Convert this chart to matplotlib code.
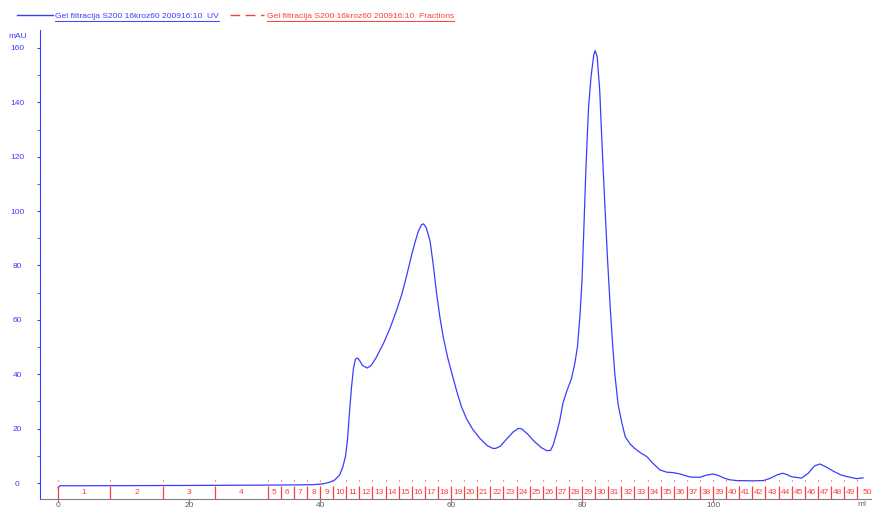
import numpy as np
import matplotlib
matplotlib.use("Agg")
import matplotlib.pyplot as plt
from matplotlib.lines import Line2D

plt.rcParams['font.family'] = ['Liberation Sans', 'DejaVu Sans']

# UV trace (ml, mAU)
ml = [0.0, 0.3, 5, 20, 30, 36, 39, 40.5, 41.5, 42.3, 43.0, 43.5, 43.9, 44.2, 44.5,
      44.8, 45.1, 45.4, 45.7, 46.0, 46.5, 47.2, 47.8, 48.5, 49.7, 50.7, 51.7, 52.5,
      53.2, 54.0, 54.5, 55.0, 55.5, 55.8, 56.2, 56.8, 57.3, 57.8, 58.3, 58.8, 59.5,
      60.4, 60.9, 61.6, 62.4, 63.3, 64.4, 65.5, 66.3, 66.8, 67.5, 68.5, 69.5, 70.3,
      70.8, 71.7, 72.7, 73.8, 74.6, 75.2, 75.6, 76.1, 76.6, 77.1, 77.7, 78.4, 78.9,
      79.3, 79.7, 80.0, 80.3, 80.6, 81.0, 81.4, 81.8, 82.0, 82.3, 82.7, 83.1, 83.5,
      83.9, 84.3, 84.7, 85.0, 85.5, 86.1, 86.6, 87.3, 88.0, 89.0, 89.9, 90.8, 91.9,
      92.9, 94.0, 95.0, 96.5, 98.0, 99.0, 100.0, 100.8, 101.6, 102.5, 103.6, 106.0,
      107.7, 108.7, 109.7, 110.6, 111.3, 112.0, 113.5, 114.5, 115.5, 116.3, 117.2,
      118.4, 119.5, 120.4, 121.9, 122.9]
uv = [-1.8, -1.0, -1.0, -0.9, -0.8, -0.7, -0.6, -0.3, 0.3, 1.2, 3.0, 6.0, 10.0, 16,
      26, 35, 42, 45.5, 46.0, 45.2, 43.2, 42.3, 43.2, 45.8, 51.4, 57.0, 63.6, 69.5,
      76.0, 84, 88.5, 92.5, 95.0, 95.3, 94.0, 89.0, 80, 69.7, 61, 53.8, 46,
      37.9, 33.5, 28, 23.5, 19.8, 16.4, 13.8, 12.8, 12.7, 13.5, 16.2, 18.8, 20.1,
      19.9, 18.0, 15.3, 13.0, 11.9, 12.0, 14.0, 18.2, 23.0, 29.5, 34.0, 38.5, 44.0,
      50.0, 62.0, 74.6, 95, 116, 138.4, 150, 157.5, 159, 157, 144.5, 122, 101.6,
      82, 64.8, 50, 40.3, 29, 21.9, 17, 14.5, 12.8, 11.0, 9.7, 7.3, 4.8,
      4.0, 3.8, 3.3, 2.2, 2.1, 2.9, 3.3, 2.8, 1.9, 1.2, 0.9, 0.8,
      0.9, 1.7, 2.9, 3.6, 3.1, 2.3, 1.8, 3.5, 6.3, 7.0, 6.0,
      4.3, 3.0, 2.4, 1.6, 1.9]

# fraction boundaries (ml) and labels
frac_starts = [0, 8, 16, 24] + list(range(32, 124, 2))
frac_labels = [str(i) for i in range(1, 51)]

blue = '#3c3cff'
red = '#ff3c3c'

fig = plt.figure(figsize=(8.72, 5.08), dpi=100)
W, H = 872, 508
ax = fig.add_axes([40 / W, 9 / H, 832 / W, 469 / H])

ax.plot(ml, uv, color=blue, lw=0.9)

# fraction marks
ax.vlines(frac_starts, -5.9, -1.0, color=red, lw=0.9)
ax.vlines(frac_starts, 0.6, 1.1, color=red, lw=0.9)
ends = frac_starts[1:] + [125]
for s, e, lab in zip(frac_starts, ends, frac_labels):
    cx = (s + e) / 2 if e - s <= 8 else s + 1
    if lab == '50':
        cx = 123.6
    ax.text(cx, -3.6, lab, color=red, fontsize=6, ha='center', va='center',
            clip_on=False)

ax.set_xlim(-2.75, 124.27)
ax.set_ylim(-5.88, 166.6)

for s in ['top', 'right']:
    ax.spines[s].set_visible(False)
ax.spines['left'].set_color(blue)
ax.spines['bottom'].set_color('#808080')

ax.set_yticks(range(0, 161, 20))
ax.set_yticks(range(10, 161, 20), minor=True)
ax.set_xticks(range(0, 101, 20))
ax.tick_params(axis='y', which='both', direction='out', length=2, color=blue,
               labelcolor=blue, labelsize=6)
ax.tick_params(axis='y', which='major', pad=14.5)
for t in ax.get_yticklabels():
    t.set_horizontalalignment('center')
ax.tick_params(axis='x', direction='out', length=2, color='#808080',
               labelcolor='#606060', labelsize=6, pad=0.3)

fig.text(18 / W, 1 - 37 / H, 'mAU', color=blue, fontsize=6, ha='center', va='center')
fig.text(862 / W, 1 - 504 / H, 'ml', color='#606060', fontsize=6, ha='center', va='center')

# legend with underlined labels
fig.add_artist(Line2D([17 / W, 53 / W], [1 - 14.5 / H] * 2, color=blue, lw=1))
fig.add_artist(Line2D([230 / W, 264 / W], [1 - 14.5 / H] * 2, color=red, lw=1,
                      dashes=(7, 4)))
t1 = fig.text(55 / W, 1 - 18.5 / H, 'Gel filtracija S200 16kroz60 200916:10  UV',
              color=blue, fontsize=6.1, ha='left', va='baseline')
t2 = fig.text(267 / W, 1 - 18.5 / H, 'Gel filtracija S200 16kroz60 200916:10  Fractions',
              color=red, fontsize=6.1, ha='left', va='baseline')
fig.canvas.draw()
r = fig.canvas.get_renderer()
for t, c in [(t1, blue), (t2, red)]:
    bb = t.get_window_extent(r)
    fig.add_artist(Line2D([bb.x0 / W, bb.x1 / W], [1 - 20.5 / H] * 2, color=c, lw=0.7))

fig.savefig('out.png', dpi=100)
